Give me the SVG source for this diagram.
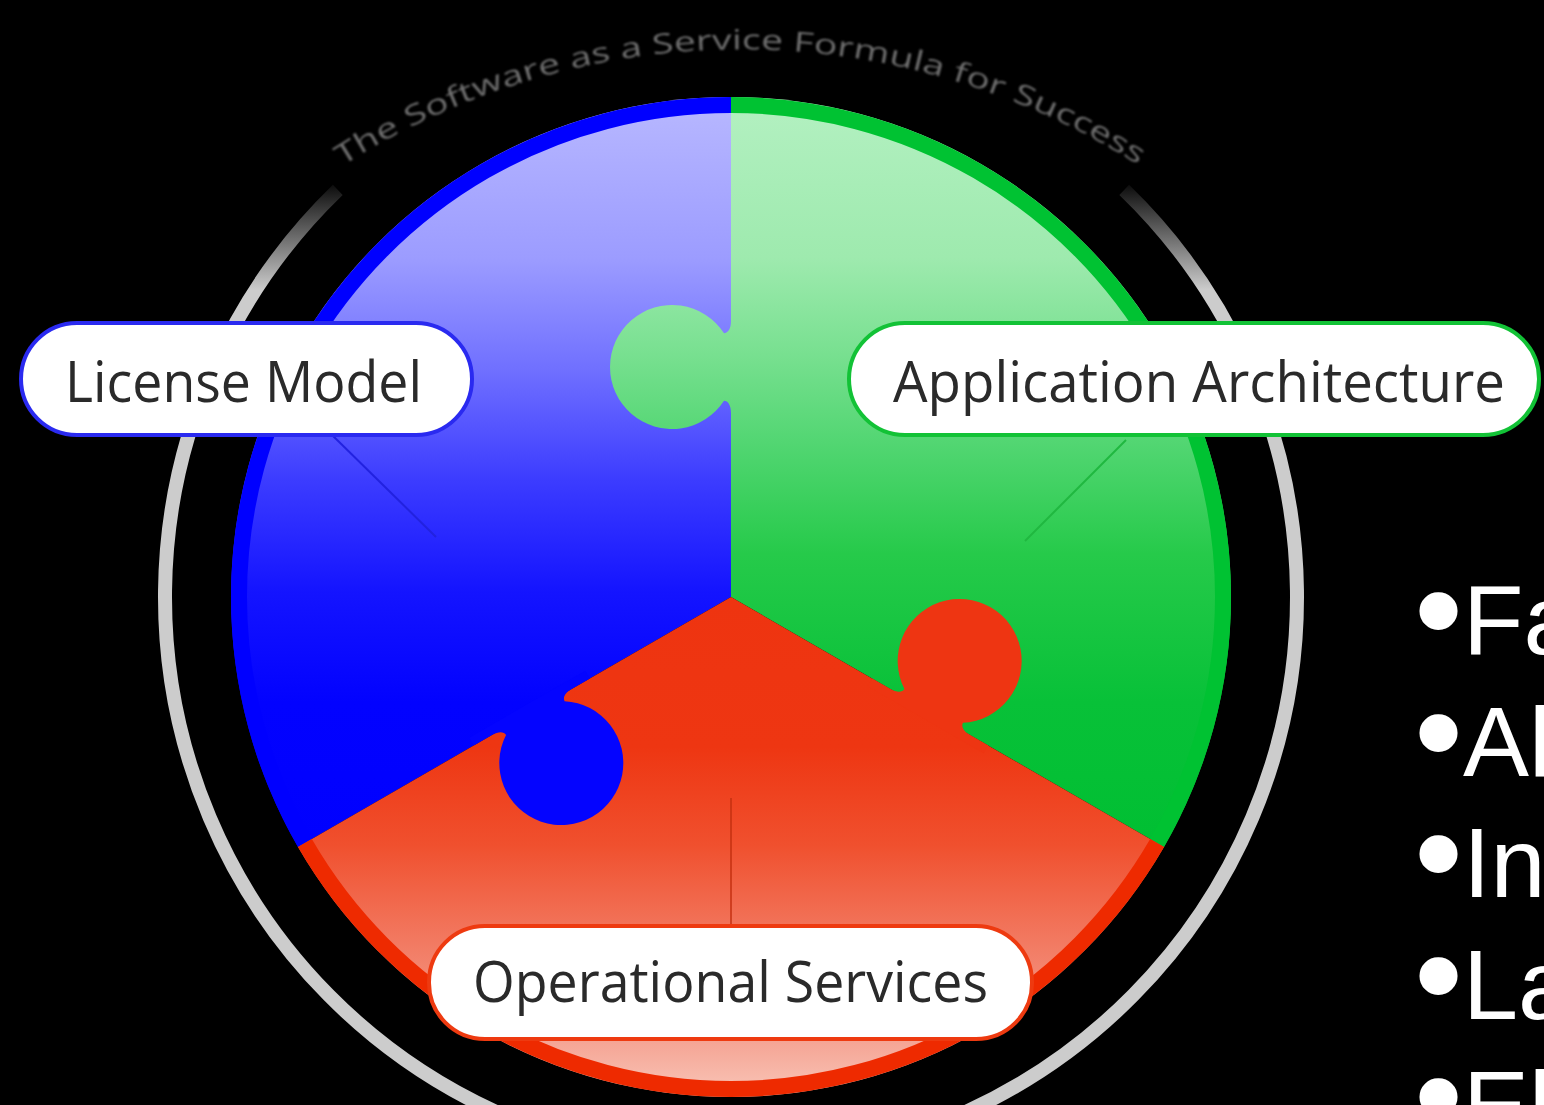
<svg xmlns="http://www.w3.org/2000/svg" xmlns:xlink="http://www.w3.org/1999/xlink" width="1544" height="1105" viewBox="0 0 1544 1105">
  <defs>
    <style>
      .pill { fill: #ffffff; stroke-width: 4; }
      .lbl { font-family: "Open Sans", "Liberation Sans", sans-serif; font-size: 56px; fill: #2a2a2a; }
      .bul { font-family: "Liberation Sans", Arial, sans-serif; font-size: 99px; fill: #ffffff; }
      .dot { font-family: "Liberation Sans", Arial, sans-serif; font-size: 140px; fill: #ffffff; }
      .rim { fill: none; stroke-width: 16; }
      .lead { fill: none; }
    </style>
    <linearGradient id="gBlue" gradientUnits="userSpaceOnUse" x1="0" y1="110" x2="0" y2="850">
      <stop offset="0" stop-color="#b6b6ff"/>
      <stop offset="0.2" stop-color="#9c9cff"/>
      <stop offset="0.35" stop-color="#7070ff"/>
      <stop offset="0.5" stop-color="#3c3cff"/>
      <stop offset="0.65" stop-color="#1414ff"/>
      <stop offset="0.8" stop-color="#0202ff"/>
      <stop offset="1" stop-color="#0000ff"/>
    </linearGradient>
    <linearGradient id="gGreen" gradientUnits="userSpaceOnUse" x1="0" y1="110" x2="0" y2="850">
      <stop offset="0" stop-color="#b2f0c0"/>
      <stop offset="0.2" stop-color="#9eeaae"/>
      <stop offset="0.33" stop-color="#78e090"/>
      <stop offset="0.45" stop-color="#52d672"/>
      <stop offset="0.6" stop-color="#26ca4a"/>
      <stop offset="0.8" stop-color="#08c138"/>
      <stop offset="1" stop-color="#00bf32"/>
    </linearGradient>
    <linearGradient id="gRed" gradientUnits="userSpaceOnUse" x1="0" y1="600" x2="0" y2="1090">
      <stop offset="0" stop-color="#ee3410"/>
      <stop offset="0.3" stop-color="#ee3612"/>
      <stop offset="0.5" stop-color="#f0502e"/>
      <stop offset="0.7" stop-color="#f27a62"/>
      <stop offset="0.9" stop-color="#f5a494"/>
      <stop offset="1" stop-color="#f8c2b4"/>
    </linearGradient>
    <linearGradient id="gRing" gradientUnits="userSpaceOnUse" x1="0" y1="178" x2="0" y2="290">
      <stop offset="0" stop-color="#000000"/>
      <stop offset="1" stop-color="#cccccc"/>
    </linearGradient>
    <filter id="soft" x="-5%" y="-20%" width="110%" height="140%">
      <feGaussianBlur stdDeviation="1.2"/>
    </filter>
    <path id="arcPath" d="M 342.3 166 A 740 740 0 0 1 1139.7 166"/>
    <path id="tab" d="M 740 300 L 731 300 L 731 321 C 731 329 728 333 724 333.2 A 62 62 0 1 0 724 400.8 C 728 401 731 405 731 413 L 731 434 L 740 434 Z"/>
  </defs>

  <rect x="0" y="0" width="1544" height="1105" fill="#000000"/>

  <g id="ring">
    <path d="M 337.8 189.9 A 566 566 0 1 0 1124.2 189.9" fill="none" stroke="url(#gRing)" stroke-width="14"/>
  </g>

  <g id="arc-title" filter="url(#soft)">
    <text font-family="Open Sans, Liberation Sans, sans-serif" font-size="28" fill="#6e6e6e">
      <textPath xlink:href="#arcPath" href="#arcPath" textLength="840" lengthAdjust="spacingAndGlyphs">The Software as a Service Formula for Success</textPath>
    </text>
  </g>

  <g id="wheel">
    <g id="sector-license">
      <path d="M 731 597 L 731 97 A 500 500 0 0 0 298 847 Z" fill="url(#gBlue)"/>
      <path class="rim" d="M 731 105 A 492 492 0 0 0 304.9 843" stroke="#0000ff"/>
    </g>
    <g id="sector-application">
      <path d="M 731 597 L 731 97 A 500 500 0 0 1 1164 847 Z" fill="url(#gGreen)"/>
      <path class="rim" d="M 731 105 A 492 492 0 0 1 1157.1 843" stroke="#00c232"/>
    </g>
    <g id="sector-operational">
      <path d="M 731 597 L 298 847 A 500 500 0 0 0 1164 847 Z" fill="url(#gRed)"/>
      <path class="rim" d="M 304.9 843 A 492 492 0 0 0 1157.1 843" stroke="#ee2a00"/>
    </g>
    <g id="tabs">
      <use xlink:href="#tab" href="#tab" fill="url(#gGreen)"/>
      <use xlink:href="#tab" href="#tab" fill="#ee3512" transform="rotate(120 731 597)"/>
      <use xlink:href="#tab" href="#tab" fill="#0404ff" transform="rotate(240 731 597)"/>
    </g>
  </g>

  <g id="connectors">
    <line class="lead" x1="330" y1="433" x2="436" y2="537" stroke="#2222e0" stroke-width="2"/>
    <line class="lead" x1="1126" y1="440" x2="1025" y2="541" stroke="#20b840" stroke-width="2"/>
    <line class="lead" x1="731" y1="798" x2="731" y2="926" stroke="#c43010" stroke-width="1.5"/>
  </g>

  <g id="node-license-model">
    <rect class="pill" x="21" y="323" width="451" height="112" rx="56" ry="56" stroke="#2a2af0"/>
    <text class="lbl" x="65" y="402" textLength="357" lengthAdjust="spacingAndGlyphs">License Model</text>
  </g>

  <g id="node-application-architecture">
    <rect class="pill" x="849" y="323" width="690" height="112" rx="56" ry="56" stroke="#12c236"/>
    <text class="lbl" x="893" y="402" textLength="612" lengthAdjust="spacingAndGlyphs">Application Architecture</text>
  </g>

  <g id="node-operational-services">
    <rect class="pill" x="429" y="926" width="603" height="113" rx="56" ry="56" stroke="#ee3a10"/>
    <text class="lbl" x="473" y="1002" textLength="515" lengthAdjust="spacingAndGlyphs">Operational Services</text>
  </g>

  <g id="bullets">
    <text y="654"><tspan class="dot" x="1414" dy="3">•</tspan><tspan class="bul" x="1463" dy="-3">Fa</tspan></text>
    <text y="776"><tspan class="dot" x="1414" dy="3">•</tspan><tspan class="bul" x="1463" dy="-3">Al</tspan></text>
    <text y="897"><tspan class="dot" x="1414" dy="3">•</tspan><tspan class="bul" x="1463" dy="-3">In</tspan></text>
    <text y="1019"><tspan class="dot" x="1414" dy="3">•</tspan><tspan class="bul" x="1463" dy="-3">La</tspan></text>
    <text y="1140"><tspan class="dot" x="1414" dy="3">•</tspan><tspan class="bul" x="1463" dy="-3">El</tspan></text>
  </g>
</svg>
